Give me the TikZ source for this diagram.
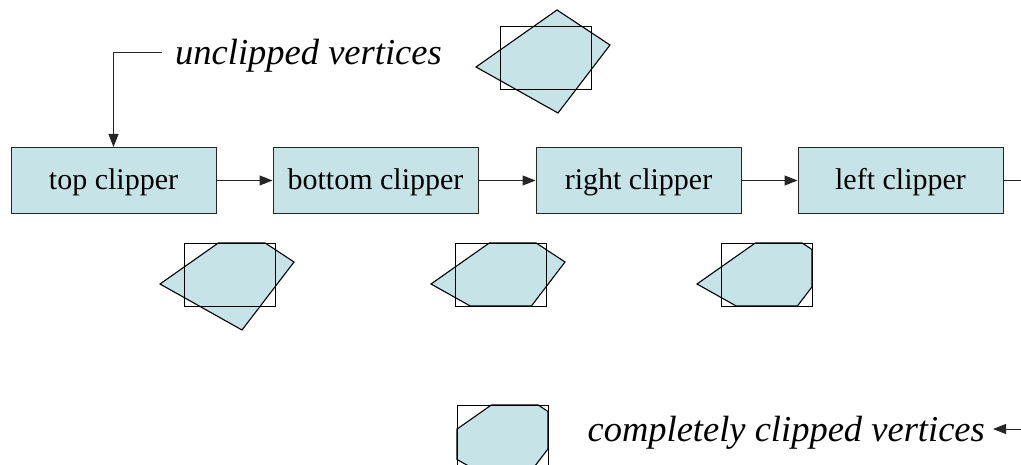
\documentclass[tikz,border=0pt]{standalone}
\usepackage{fontspec}
\setmainfont{Liberation Serif}
\usetikzlibrary{arrows.meta}
\definecolor{clipfill}{RGB}{198,228,232}
\begin{document}
\begin{tikzpicture}[x=1pt,y=-1pt,
  stage/.style={draw=black!85,line width=1pt,fill=clipfill,minimum width=205pt,minimum height=66pt,inner sep=0pt,text height=19pt,text depth=0pt,font=\fontsize{30}{36}\selectfont},
  lbl/.style={font=\fontsize{36.5}{42}\selectfont\itshape,inner ysep=0pt},
  conn/.style={draw=black!85,line width=1pt,-{Triangle[length=13pt,width=10pt]}},
  poly/.style={fill=clipfill,draw=black,line width=1.1pt,line join=miter},
  frame/.style={draw=black,line width=0.9pt}]
\useasboundingbox (0,0) rectangle (1021,465);
\node[stage] (top) at (113.5,180.5) {top clipper};
\node[stage] (bot) at (375.5,180.5) {bottom clipper};
\node[stage] (rgt) at (638.5,180.5) {right clipper};
\node[stage] (lft) at (900.5,180.5) {left clipper};
\coordinate (out) at (1021,180.5);
\draw[conn] (top) -- (bot);
\draw[conn] (bot) -- (rgt);
\draw[conn] (rgt) -- (lft);
\draw[draw=black!85,line width=1pt] (lft) -- (out);
\node[lbl,anchor=west,inner xsep=13pt] (un) at (162,56) {unclipped vertices};
\coordinate (bend) at (113.5,53);
\draw[conn] (un.west |- bend) -- (bend) -- (top.north);
\node[lbl,anchor=east,inner xsep=8pt] (cv) at (993,433) {completely clipped vertices};
\coordinate (in) at (1021,429);
\draw[conn] (in) -- (cv.east |- in);
% polygons
\begin{scope}[shift={(500,26)}]
\draw[poly] (57,-16) -- (110,19) -- (58,87) -- (-24,41) -- cycle;
\draw[frame] (0,0) rectangle (91,63);
\end{scope}
\begin{scope}[shift={(184,243)}]
\draw[poly] (34.3,0) -- (81.2,0) -- (110,19) -- (58,87) -- (-24,41) -- cycle;
\draw[frame] (0,0) rectangle (91,63);
\end{scope}
\begin{scope}[shift={(455,243)}]
\draw[poly] (34.3,0) -- (81.2,0) -- (110,19) -- (76.4,63) -- (15.2,63) -- (-24,41) -- cycle;
\draw[frame] (0,0) rectangle (91,63);
\end{scope}
\begin{scope}[shift={(721,243)}]
\draw[poly] (34.3,0) -- (81.2,0) -- (91,6.5) -- (91,43.9) -- (76.4,63) -- (15.2,63) -- (-24,41) -- cycle;
\draw[frame] (0,0) rectangle (91,63);
\end{scope}
\begin{scope}[shift={(457,405)}]
\draw[poly] (34.3,0) -- (81.2,0) -- (91,6.5) -- (91,43.9) -- (76.4,63) -- (15.2,63) -- (0,54.5) -- (0,24.1) -- cycle;
\draw[frame] (0,0) rectangle (91,63);
\end{scope}
\end{tikzpicture}
\end{document}
